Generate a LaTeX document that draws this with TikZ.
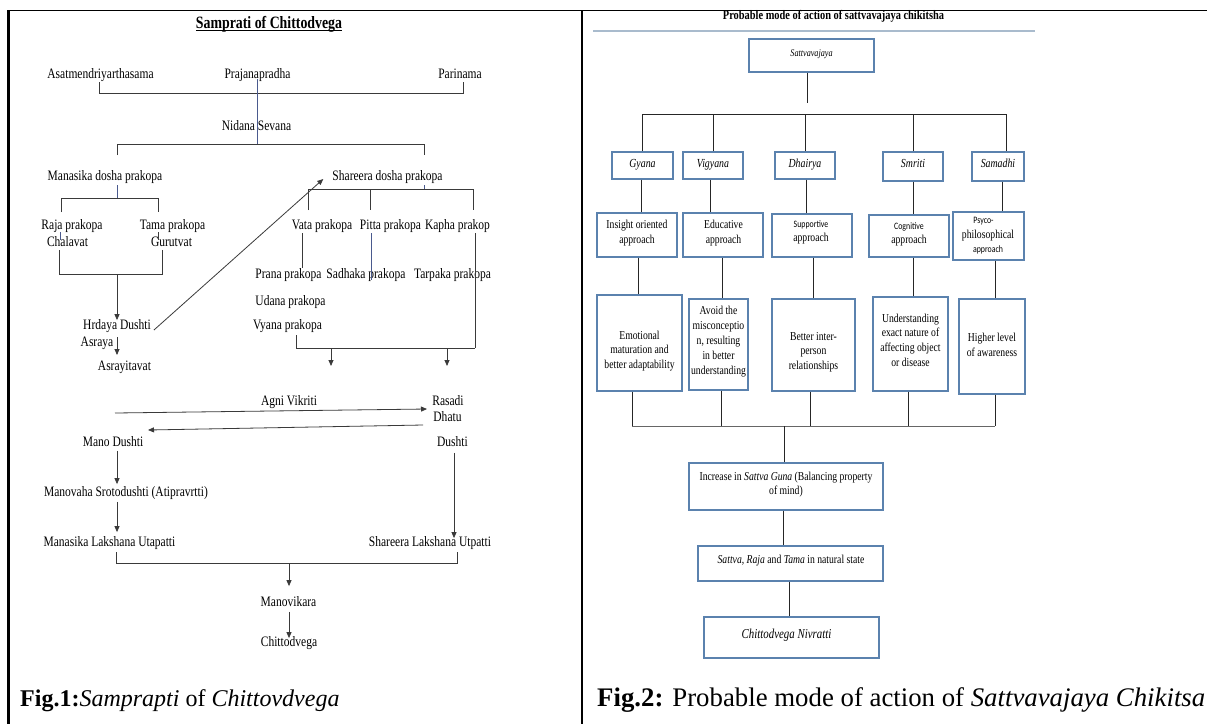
\documentclass[tikz,border=0pt]{standalone}
\usepackage{fontspec}
\setmainfont{Liberation Serif}
\newfontfamily\dfont{Liberation Serif}[FakeStretch=0.8]
\newfontfamily\dsans{Carlito}[FakeStretch=0.8]
\usetikzlibrary{arrows.meta}
\definecolor{bxc}{HTML}{5B82AE}
\definecolor{lnc}{HTML}{3A3A3A}
\definecolor{lnbc}{HTML}{4A5A8E}
\definecolor{rulec}{HTML}{A9BBCD}
\tikzset{
 lt/.style={inner sep=0pt, text height=0.8em, text depth=0.14em, font=\dfont\fontsize{14.4}{16}\selectfont},
 ln/.style={draw=lnc, line width=0.8pt},
 lb/.style={draw=lnbc, line width=0.8pt},
 arr/.style={draw=lnc, line width=0.8pt, -{Triangle[length=6pt,width=5pt]}},
 bx/.style={draw=bxc, line width=1.1pt, inner sep=0pt},
 rt/.style={inner sep=0pt, align=center, font=\dfont\fontsize{12.1}{14.6}\selectfont},
 ri/.style={inner sep=0pt, text height=0.8em, text depth=0.14em, font=\dfont\itshape\fontsize{12.3}{14}\selectfont},
 cn/.style={draw=black!85, line width=0.9pt},
 captext/.style={inner sep=0pt, anchor=west, text height=0.8em, text depth=0.14em},
}
\begin{document}
\begin{tikzpicture}[x=1pt,y=-1pt]
\useasboundingbox (0,0) rectangle (1207,724);
\fill[white] (0,0) rectangle (1207,724);
% table borders
\draw[black, line width=1pt] (8,10.5) -- (1207,10.5);
\draw[black, line width=2.5pt] (8.5,10) -- (8.5,724);
\draw[black, line width=2pt] (582,10) -- (582,724);

% ================= LEFT PANEL =================
\node[lt, font=\dfont\bfseries\fontsize{17.3}{20}\selectfont] (title1) at (269,25) {Samprati of Chittodvega};
\draw[black, line width=1pt] ([yshift=-0.5pt]title1.south west) -- ([yshift=-0.5pt]title1.south east);

\node[lt] (asat) at (100.5,75) {Asatmendriyarthasama};
\node[lt] (praj) at (257.5,75) {Prajanapradha};
\node[lt] (pari) at (460,75) {Parinama};
\node[lt] (nidana) at (256.5,127) {Nidana Sevana};
\node[lt] (manasika) at (105,177) {Manasika dosha prakopa};
\node[lt] (shareera) at (387.5,177) {Shareera dosha prakopa};
\node[lt] (raja) at (72,226) {Raja prakopa};
\node[lt] (tama) at (172.5,226) {Tama prakopa};
\node[lt] (chala) at (67.5,243) {Chalavat};
\node[lt] (guru) at (171.5,243) {Gurutvat};
\node[lt] (vata) at (322,226) {Vata prakopa};
\node[lt] (pitta) at (390.5,226) {Pitta prakopa};
\node[lt] (kapha) at (457.5,226) {Kapha prakop};
\node[lt] (prana) at (288.5,275) {Prana prakopa};
\node[lt] (sadhaka) at (366,275) {Sadhaka prakopa};
\node[lt] (tarpaka) at (452.5,275) {Tarpaka prakopa};
\node[lt] (udana) at (290.5,302) {Udana prakopa};
\node[lt] (vyana) at (287.5,326) {Vyana prakopa};
\node[lt] (hrdaya) at (117,326) {Hrdaya Dushti};
\node[lt] (asraya) at (97,343) {Asraya};
\node[lt] (asrayit) at (124.5,367) {Asrayitavat};
\node[lt] (agni) at (289,402) {Agni Vikriti};
\node[lt] (rasadi) at (448,402) {Rasadi};
\node[lt] (dhatu) at (447.5,418) {Dhatu};
\node[lt] (mano) at (113,443) {Mano Dushti};
\node[lt] (dushti) at (452.5,443) {Dushti};
\node[lt] (manovaha) at (126,493) {Manovaha Srotodushti (Atipravrtti)};
\node[lt] (manlak) at (109.5,543) {Manasika Lakshana Utapatti};
\node[lt] (sharlak) at (430,543) {Shareera Lakshana Utpatti};
\node[lt] (manovikara) at (288.5,603) {Manovikara};
\node[lt] (chitto) at (289,643) {Chittodvega};

% coordinates of bracket joints
\coordinate (j1a) at (99,82);   \coordinate (j1b) at (99,93);
\coordinate (j1c) at (463,93);  \coordinate (j1d) at (463,82);
\coordinate (j2a) at (257,79);  \coordinate (j2b) at (257,144);
\coordinate (j3a) at (117,155); \coordinate (j3b) at (117,144);
\coordinate (j3c) at (424,144); \coordinate (j3d) at (424,155);
\coordinate (j4a) at (117,185); \coordinate (j4b) at (117,198);
\coordinate (j5a) at (61,212);  \coordinate (j5b) at (61,198);
\coordinate (j5c) at (158,198); \coordinate (j5d) at (158,212);
\coordinate (j6a) at (59,250);  \coordinate (j6b) at (59,274);
\coordinate (j6c) at (162,274); \coordinate (j6d) at (162,250);
\coordinate (j6m) at (117,274);
\coordinate (j7a) at (424,185); \coordinate (j7b) at (424,189);
\coordinate (j8a) at (308,210); \coordinate (j8b) at (308,189);
\coordinate (j8c) at (473,189); \coordinate (j8d) at (473,210);
\coordinate (j8e) at (370,189); \coordinate (j8f) at (370,210);
\coordinate (j9a) at (302,233); \coordinate (j9b) at (302,268);
\coordinate (j10a) at (371,233); \coordinate (j10b) at (371,280);
\coordinate (j11a) at (475,233); \coordinate (j11b) at (475,348);
\coordinate (j12a) at (296,335); \coordinate (j12b) at (296,348);
\coordinate (j13a) at (331,348); \coordinate (j13b) at (331,366);
\coordinate (j14a) at (447,348); \coordinate (j14b) at (447,366);
\coordinate (j15a) at (117,337); \coordinate (j15b) at (117,355);
\coordinate (agS) at (115,413);  \coordinate (agE) at (427,409);
\coordinate (bkS) at (423,425);  \coordinate (bkE) at (148,430);
\coordinate (j16a) at (116,552); \coordinate (j16b) at (116,563);
\coordinate (j16c) at (457,563); \coordinate (j16d) at (457,552);
\coordinate (j16m) at (289,563);

\draw[ln] (j1a) -- (j1b) -- (j1c) -- (j1d);
\draw[lb] (j2a) -- (j2b);
\draw[ln] (j3a) -- (j3b) -- (j3c) -- (j3d);
\draw[lb] (j4a) -- (j4b);
\draw[ln] (j5a) -- (j5b) -- (j5c) -- (j5d);
\draw[lb] ([xshift=-12pt,yshift=-6pt]raja.center) -- ([xshift=-7.5pt,yshift=3pt]chala.center);
\draw[ln] ([xshift=-14.5pt,yshift=-6pt]tama.center) -- ([xshift=-13.5pt,yshift=3pt]guru.center);
\draw[ln] (j6a) -- (j6b) -- (j6c) -- (j6d);
\draw[arr] (j6m) -- ([yshift=1pt]hrdaya.north);
\draw[arr] ([shift={(3pt,-4pt)}]hrdaya.east) -- ([shift={(-9pt,-2pt)}]shareera.west);
\draw[lb] (j7a) -- (j7b);
\draw[ln] (j8a) -- (j8b) -- (j8c) -- (j8d);
\draw[ln] (j8e) -- (j8f);
\draw[ln] (j9a) -- (j9b);
\draw[lb] (j10a) -- (j10b);
\draw[ln] (j11a) -- (j11b);
\draw[ln] (j12a) -- (j12b) -- (j11b);
\draw[arr] (j13a) -- (j13b);
\draw[arr] (j14a) -- (j14b);
\draw[arr] (j15a) -- (j15b);
\draw[arr] (agS) -- (agE);
\draw[arr] (bkS) -- (bkE);
\draw[arr] ([shift={(4pt,-3pt)}]mano.south) -- ([shift={(-9pt,4pt)}]manovaha.north);
\draw[arr] ([shift={(-9pt,-4pt)}]manovaha.south) -- ([shift={(7.5pt,6pt)}]manlak.north);
\draw[arr] ([shift={(1.5pt,-5pt)}]dushti.south) -- ([xshift=24pt]sharlak.north);
\draw[ln] (j16a) -- (j16b) -- (j16c) -- (j16d);
\draw[arr] (j16m) -- ([yshift=12pt]manovikara.north -| j16m);
\draw[arr] ([yshift=-4pt]manovikara.south -| j16m) -- (chitto.north -| j16m);

\node[captext, font=\fontsize{24}{28}\selectfont] (cap1) at (20,703) {\textbf{Fig.1:}\textit{Samprapti} of \textit{Chittovdvega}};

% ================= RIGHT PANEL =================
\node[lt, font=\dfont\bfseries\fontsize{13}{15}\selectfont] (title2) at (833.5,16) {Probable mode of action of sattvavajaya chikitsha};
\draw[rulec, line width=1.3pt] (593,31) -- (1035,31);

% boxes
\node[bx, minimum width=125pt, minimum height=33pt] (sattva) at (811.5,55.5) {};
\node[bx, minimum width=61pt, minimum height=27pt] (gyana) at (642.5,165.5) {};
\node[bx, minimum width=60pt, minimum height=27pt] (vigyana) at (713,165.5) {};
\node[bx, minimum width=60pt, minimum height=27pt] (dhairya) at (805,165.5) {};
\node[bx, minimum width=60pt, minimum height=29pt] (smriti) at (913,166.5) {};
\node[bx, minimum width=52pt, minimum height=29pt] (samadhi) at (998,166.5) {};
\node[bx, minimum width=80pt, minimum height=44pt] (insight) at (637,235) {};
\node[bx, minimum width=80pt, minimum height=44pt] (educ) at (723,235) {};
\node[bx, minimum width=80pt, minimum height=43pt] (supp) at (812,235.5) {};
\node[bx, minimum width=80pt, minimum height=42pt] (cogn) at (909,236) {};
\node[bx, minimum width=71pt, minimum height=48pt] (psyco) at (988.5,236) {};
\node[bx, minimum width=85pt, minimum height=96pt] (emo) at (639.5,343) {};
\node[bx, minimum width=59pt, minimum height=91pt] (avoid) at (718.5,344.5) {};
\node[bx, minimum width=83pt, minimum height=92pt] (better) at (813.5,345) {};
\node[bx, minimum width=75pt, minimum height=94pt] (under) at (910.5,344) {};
\node[bx, minimum width=66pt, minimum height=95pt] (higher) at (992,346.5) {};
\node[bx, minimum width=194pt, minimum height=47pt] (increase) at (786,486.5) {};
\node[bx, minimum width=185pt, minimum height=35pt] (sattvaraja) at (790.5,563.5) {};
\node[bx, minimum width=175pt, minimum height=41pt] (nivratti) at (791.5,637.5) {};

% box texts
\node[ri, font=\dfont\itshape\fontsize{10.2}{12}\selectfont] (sattva-t) at (811.5,53) {Sattvavajaya};
\node[ri] (gyana-t) at (642.5,164) {Gyana};
\node[ri] (vigyana-t) at (713,164) {Vigyana};
\node[ri] (dhairya-t) at (805,164) {Dhairya};
\node[ri] (smriti-t) at (913,164) {Smriti};
\node[ri] (samadhi-t) at (998,164) {Samadhi};
\node[rt] (insight-t) at (637,233) {Insight oriented\\approach};
\node[rt] (educ-t) at (723.5,233) {Educative\\approach};
\node[rt] (supp-t) at (811,232.5) {{\dsans\fontsize{9.8}{12}\selectfont Supportive}\\approach};
\node[rt] (cogn-t) at (909,234.5) {{\dsans\fontsize{9.8}{12}\selectfont Cognitive}\\approach};
\node[rt] (psyco-t) at (988,236) {{\dsans\fontsize{9.8}{12}\selectfont\hspace*{-9pt}Psyco-}\\philosophical\\{\dsans\fontsize{9.8}{12}\selectfont approach}};
\node[rt] (emo-t) at (639.5,351) {Emotional\\maturation and\\better adaptability};
\node[rt, font=\dfont\fontsize{12.1}{14.8}\selectfont] (avoid-t) at (718.5,341.5) {Avoid the\\misconceptio\\n, resulting\\in better\\understanding};
\node[rt] (better-t) at (813.5,352) {Better inter-\\person\\relationships};
\node[rt, font=\dfont\fontsize{12.1}{14.7}\selectfont] (under-t) at (910.5,340) {Understanding\\exact nature of\\affecting object\\or disease};
\node[rt] (higher-t) at (992,345) {Higher level\\of awareness};
\node[rt, font=\dfont\fontsize{12.1}{14}\selectfont] (increase-t) at (786,485) {Increase in \textit{Sattva Guna} (Balancing property\\of mind)};
\node[rt] (sattvaraja-t) at (791,561) {\textit{Sattva}, \textit{Raja} and \textit{Tama} in natural state};
\node[ri, font=\dfont\itshape\fontsize{13.6}{16}\selectfont] (nivratti-t) at (786.5,635) {Chittodvega Nivratti};

% connectors
\coordinate (hb) at (0,114);
\coordinate (bb) at (0,426);
\draw[cn] ([xshift=-4.5pt]sattva.south) -- ++(0,30);
\draw[cn] (gyana.north |- hb) -- ([xshift=8pt]samadhi.north |- hb);
\foreach \n in {gyana,vigyana,dhairya,smriti} {\draw[cn] (\n.north |- hb) -- (\n.north);}
\draw[cn] ([xshift=8pt]samadhi.north |- hb) -- ([xshift=8pt]samadhi.north);
\draw[cn] ([xshift=-1.5pt]gyana.south) -- ([xshift=-1.5pt]gyana.south |- insight.north);
\draw[cn] ([xshift=-3pt]vigyana.south) -- ([xshift=-3pt]vigyana.south |- educ.north);
\draw[cn] ([xshift=1pt]dhairya.south) -- ([xshift=1pt]dhairya.south |- supp.north);
\draw[cn] (smriti.south) -- (smriti.south |- cogn.north);
\draw[cn] ([xshift=4pt]samadhi.south) -- ([xshift=4pt]samadhi.south |- psyco.north);
\draw[cn] ([xshift=1pt]insight.south) -- ([xshift=1pt]insight.south |- emo.north);
\draw[cn] ([xshift=-1pt]educ.south) -- ([xshift=-1pt]educ.south |- avoid.north);
\draw[cn] ([xshift=1pt]supp.south) -- ([xshift=1pt]supp.south |- better.north);
\draw[cn] ([xshift=4pt]cogn.south) -- ([xshift=4pt]cogn.south |- under.north);
\draw[cn] ([xshift=6.5pt]psyco.south) -- ([xshift=6.5pt]psyco.south |- higher.north);
\draw[cn] ([xshift=-7.5pt]emo.south) -- ([xshift=-7.5pt]emo.south |- bb);
\draw[cn] ([xshift=2.5pt]avoid.south) -- ([xshift=2.5pt]avoid.south |- bb);
\draw[cn] ([xshift=-3.5pt]better.south) -- ([xshift=-3.5pt]better.south |- bb);
\draw[cn] ([xshift=-2.5pt]under.south) -- ([xshift=-2.5pt]under.south |- bb);
\draw[cn] ([xshift=3pt]higher.south) -- ([xshift=3pt]higher.south |- bb);
\draw[cn, draw=black!60] ([xshift=-7.5pt]emo.south |- bb) -- ([xshift=3pt]higher.south |- bb);
\draw[cn] ([xshift=-2pt]increase.north |- bb) -- ([xshift=-2pt]increase.north);
\draw[cn] ([xshift=-3pt]increase.south) -- ([xshift=-3pt]increase.south |- sattvaraja.north);
\draw[cn] ([xshift=-1.5pt]sattvaraja.south) -- ([xshift=-1.5pt]sattvaraja.south |- nivratti.north);

\node[captext, font=\fontsize{26.8}{30}\selectfont] (cap2) at (597,703) {\textbf{Fig.2:} Probable mode of action of \textit{Sattvavajaya Chikitsa}};
\end{tikzpicture}
\end{document}
